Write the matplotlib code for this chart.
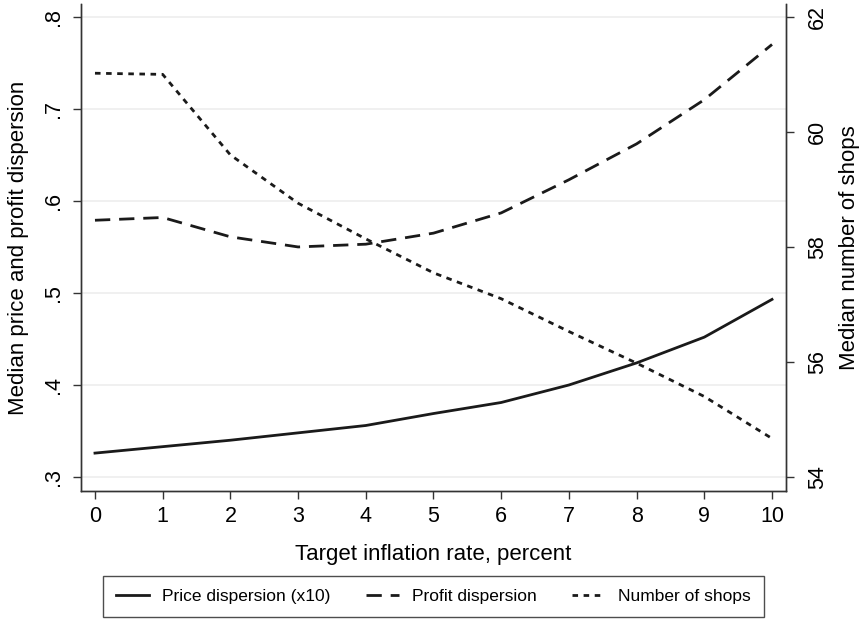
import matplotlib
matplotlib.use("Agg")
import matplotlib.pyplot as plt

plt.rcParams['font.family'] = ['Liberation Sans', 'DejaVu Sans']

inflation = [0, 1, 2, 3, 4, 5, 6, 7, 8, 9, 10]
price_disp = [0.326, 0.333, 0.340, 0.348, 0.356, 0.369, 0.381, 0.400, 0.424, 0.452, 0.493]
profit_disp = [0.579, 0.582, 0.561, 0.550, 0.553, 0.565, 0.587, 0.623, 0.662, 0.710, 0.770]
num_shops = [61.02, 61.00, 59.60, 58.76, 58.14, 57.55, 57.10, 56.53, 55.98, 55.40, 54.67]

left_ticks = [0.3, 0.4, 0.5, 0.6, 0.7, 0.8]
left_labels = ['.3', '.4', '.5', '.6', '.7', '.8']
right_ticks = [54, 56, 58, 60, 62]

LINE = '#1a1a1a'

fig = plt.figure(figsize=(8.65, 6.21), dpi=100)
ax1 = fig.add_axes([0.0936, 0.2093, 0.8151, 0.7843])
ax2 = ax1.twinx()

l1, = ax1.plot(inflation, price_disp, color=LINE, lw=2.0, ls='-',
               label='Price dispersion (x10)')
l2, = ax1.plot(inflation, profit_disp, color=LINE, lw=2.0, ls=(0, (5.5, 3.2)),
               label='Profit dispersion')
l3, = ax2.plot(inflation, num_shops, color=LINE, lw=2.0, ls=(0, (2.0, 2.0)),
               label='Number of shops')

lo, hi = 0.2848, 0.814
ax1.set_ylim(lo, hi)
ax2.set_ylim(54 + (lo - 0.3) * 16, 54 + (hi - 0.3) * 16)
ax1.set_xlim(-0.207, 10.207)

ax1.set_yticks(left_ticks)
ax1.set_yticklabels(left_labels, rotation=90, va='center')
ax2.set_yticks(right_ticks)
ax2.set_yticklabels([str(t) for t in right_ticks], rotation=90, va='center')
ax1.set_xticks(inflation)

for t in left_ticks:
    ax1.axhline(t, color='#eeeeee', lw=1.2, zorder=0)

for ax in (ax1, ax2):
    ax.spines['top'].set_visible(False)
    for s in ('left', 'right', 'bottom'):
        ax.spines[s].set_color('#333333')
        ax.spines[s].set_linewidth(1.0)
    ax.tick_params(labelsize=15.5, length=6, width=1.0, color='#333333', pad=6)
ax1.tick_params(axis='x', pad=5)
ax2.tick_params(axis='y', pad=9)

ax1.set_xlabel('Target inflation rate, percent', fontsize=16, labelpad=12)
ax1.set_ylabel('Median price and profit dispersion', fontsize=16, labelpad=10)
ax2.set_ylabel('Median number of shops', fontsize=16, labelpad=8)

leg = fig.legend(handles=[l1, l2, l3], loc='center', ncol=3,
                 bbox_to_anchor=(0.5012, 0.0395), fontsize=12.5,
                 frameon=True, fancybox=False, edgecolor='#222222',
                 handlelength=1.9, columnspacing=2.05, borderpad=0.75,
                 handletextpad=0.75)
leg.get_frame().set_linewidth(1.0)

fig.savefig('out.png', dpi=100)
